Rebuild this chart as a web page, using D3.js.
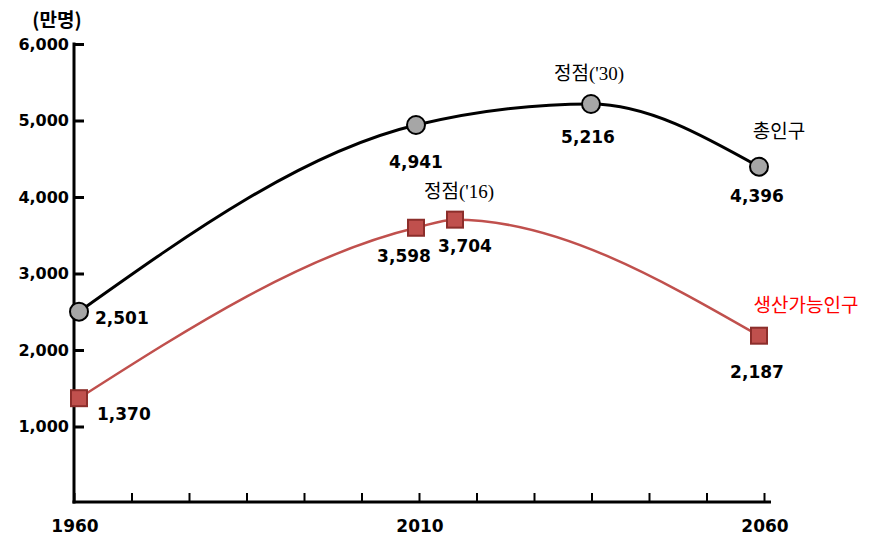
<!DOCTYPE html>
<html><head><meta charset="utf-8">
<script src="https://cdn.jsdelivr.net/npm/d3@7"></script>
<style>body{margin:0;background:#fff}svg{display:block}</style>
</head><body>
<svg id="c" width="885" height="542"></svg>
<script>
const years = [1960, 2010, 2016, 2030, 2060];
const totalYears = [1960, 2010, 2030, 2060];
const totalValues = [2501, 4941, 5216, 4396];
const workYears = [1960, 2010, 2016, 2060];
const workValues = [1370, 3598, 3704, 2187];
const yTicks = [1000, 2000, 3000, 4000, 5000, 6000];
const xTickLabels = ["1960", "", "", "", "", "", "2010", "", "", "", "", "", "2060"];
const unitLabel = "(만명)";
const totalName = "총인구";
const workName = "생산가능인구";
const peakTotal = "정점('30)";
const peakWork = "정점('16)";

const svg = d3.select("#c");
const num = "'DejaVu Sans',sans-serif";
const kr = "'Noto Sans CJK KR',sans-serif";
const serif = "'Liberation Serif','Noto Sans CJK KR',serif";

const axisLeft = 74, axisRight = 764, axisBottom = 502;
const y = d3.scaleLinear().domain([0, 6000]).range([503, 44]);
// schematic (non-uniform) time axis of the original
const x = d3.scaleLinear().domain(years).range([79, 416, 455, 591, 759]);
const tickIdx = d3.scaleLinear().domain([0, 12]).range([axisLeft, axisRight]);

// Y axis
const ya = svg.append("g").attr("transform", `translate(${axisLeft},0)`)
  .call(d3.axisRight(y).tickValues(yTicks).tickSize(10).tickFormat(() => ""));
ya.select(".domain").remove();
ya.selectAll(".tick line").attr("stroke", "#000").attr("stroke-width", 3);
svg.append("line").attr("x1", axisLeft).attr("x2", axisLeft).attr("y1", y(6000) - 1.5).attr("y2", axisBottom + 1.5)
  .attr("stroke", "#000").attr("stroke-width", 3);
svg.selectAll(".ylab").data(yTicks).join("text")
  .attr("x", 69).attr("y", d => y(d)).attr("dy", "0.36em").attr("text-anchor", "end")
  .attr("font-family", num).attr("font-weight", "bold").attr("font-size", 16).text(d => d3.format(",")(d));
svg.append("text").attr("x", 57).attr("y", 27).attr("text-anchor", "middle")
  .attr("font-family", kr).attr("font-weight", "bold").attr("font-size", 19).text(unitLabel);

// X axis
const xa = svg.append("g").attr("transform", `translate(0,${axisBottom})`)
  .call(d3.axisTop(tickIdx).tickValues(d3.range(13)).tickSize(9).tickFormat(() => ""));
xa.select(".domain").remove();
xa.selectAll(".tick line").attr("stroke", "#000").attr("stroke-width", 2);
svg.append("line").attr("x1", axisLeft - 1.5).attr("x2", axisRight + 7).attr("y1", axisBottom).attr("y2", axisBottom)
  .attr("stroke", "#000").attr("stroke-width", 3);
svg.selectAll(".xlab").data(xTickLabels).join("text")
  .attr("x", (d, i) => tickIdx(i) + 1).attr("y", 532).attr("text-anchor", "middle")
  .attr("font-family", num).attr("font-weight", "bold").attr("font-size", 17).text(d => d);

// Lines
const totalData = totalYears.map((yr, i) => ({yr, v: totalValues[i]}));
const workData = workYears.map((yr, i) => ({yr, v: workValues[i]}));
const line = d3.line().x(d => x(d.yr)).y(d => y(d.v)).curve(d3.curveMonotoneX);
svg.append("path").attr("d", line(workData)).attr("fill", "none").attr("stroke", "#c0504d").attr("stroke-width", 2.5);
svg.append("path").attr("d", line(totalData)).attr("fill", "none").attr("stroke", "#000").attr("stroke-width", 3);

// Markers
svg.selectAll(".tm").data(totalData).join("circle")
  .attr("cx", d => x(d.yr)).attr("cy", d => y(d.v)).attr("r", 9)
  .attr("fill", "#a6a6a6").attr("stroke", "#000").attr("stroke-width", 2);
svg.selectAll(".wm").data(workData).join("rect")
  .attr("x", d => x(d.yr) - 8).attr("y", d => y(d.v) - 8).attr("width", 16).attr("height", 16)
  .attr("fill", "#c0504d").attr("stroke", "#8c2e2b").attr("stroke-width", 2);

// Value labels
const totalOff = [[16, 12, "start"], [0, 43, "middle"], [-3, 39, "middle"], [-2, 35, "middle"]];
const workOff = [[18, 22, "start"], [-12, 34, "middle"], [10, 32, "middle"], [-2, 42, "middle"]];
function vlabels(data, off) {
  svg.append("g").selectAll("text").data(data).join("text")
    .attr("x", (d, i) => x(d.yr) + off[i][0]).attr("y", (d, i) => y(d.v) + off[i][1])
    .attr("text-anchor", (d, i) => off[i][2])
    .attr("font-family", num).attr("font-weight", "bold").attr("font-size", 17)
    .text(d => d3.format(",")(d.v));
}
vlabels(totalData, totalOff);
vlabels(workData, workOff);

// Annotations
svg.append("text").attr("x", x(2030) - 2).attr("y", y(5216) - 24).attr("text-anchor", "middle")
  .attr("font-family", serif).attr("font-size", 19).text(peakTotal);
svg.append("text").attr("x", x(2016) + 4).attr("y", y(3704) - 22).attr("text-anchor", "middle")
  .attr("font-family", serif).attr("font-size", 19).text(peakWork);
svg.append("text").attr("x", x(2060) + 20).attr("y", y(4396) - 29).attr("text-anchor", "middle")
  .attr("font-family", serif).attr("font-size", 19).text(totalName);
svg.append("text").attr("x", x(2060) + 47).attr("y", y(2187) - 24).attr("text-anchor", "middle")
  .attr("font-family", serif).attr("font-size", 19).attr("fill", "#ff0000").text(workName);
</script>
</body></html>
